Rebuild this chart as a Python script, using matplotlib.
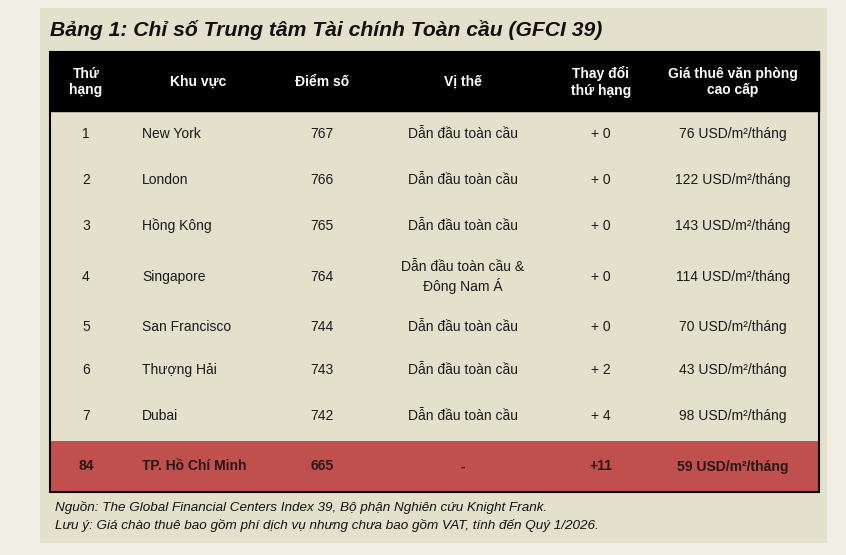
import matplotlib
matplotlib.use("Agg")
import matplotlib.pyplot as plt
from matplotlib.patches import Rectangle

plt.rcParams['font.family'] = ['Liberation Sans', 'DejaVu Sans']

title = "Bảng 1: Chỉ số Trung tâm Tài chính Toàn cầu (GFCI 39)"
headers = ["Thứ\nhạng", "Khu vực", "Điểm số", "Vị thế", "Thay đổi\nthứ hạng", "Giá thuê văn phòng\ncao cấp"]
ranks = ["1", "2", "3", "4", "5", "6", "7", "84"]
regions = ["New York", "London", "Hồng Kông", "Singapore", "San Francisco", "Thượng Hải", "Dubai", "TP. Hồ Chí Minh"]
scores = ["767", "766", "765", "764", "744", "743", "742", "665"]
status = ["Dẫn đầu toàn cầu", "Dẫn đầu toàn cầu", "Dẫn đầu toàn cầu", "Dẫn đầu toàn cầu &\nĐông Nam Á",
          "Dẫn đầu toàn cầu", "Dẫn đầu toàn cầu", "Dẫn đầu toàn cầu", "-"]
rank_change = ["+ 0", "+ 0", "+ 0", "+ 0", "+ 0", "+ 2", "+ 4", "+11"]
rents = ["76 USD/m²/tháng", "122 USD/m²/tháng", "143 USD/m²/tháng", "114 USD/m²/tháng",
         "70 USD/m²/tháng", "43 USD/m²/tháng", "98 USD/m²/tháng", "59 USD/m²/tháng"]
notes = ["Nguồn: The Global Financial Centers Index 39, Bộ phận Nghiên cứu Knight Frank.",
         "Lưu ý: Giá chào thuê bao gồm phí dịch vụ nhưng chưa bao gồm VAT, tính đến Quý 1/2026."]

W, H = 846, 555
fig = plt.figure(figsize=(W/100, H/100), dpi=100, facecolor="#f0efe6")
ax = fig.add_axes([0, 0, 1, 1])
ax.set_xlim(0, W); ax.set_ylim(H, 0); ax.axis("off")

beige = "#e3e0cc"
ax.add_patch(Rectangle((40, 8), 787, 535, facecolor=beige, edgecolor="none"))
ax.text(50, 30, title, fontsize=15.2, fontweight="bold", style="italic", va="center", color="#111")

tx0, tx1 = 50, 819
ax.add_patch(Rectangle((tx0, 52), tx1-tx0, 59, facecolor="black", edgecolor="black"))
col_x = [86, 198, 322, 463, 601, 733]
for x, h in zip(col_x, headers):
    ax.text(x, 82, h, color="white", fontsize=10, fontweight="bold", ha="center", va="center", linespacing=1.25)

bounds = [111, 157, 203, 249, 305, 349, 391, 441, 492]
n = len(ranks)
for i in range(n):
    y0, y1 = bounds[i], bounds[i+1]
    yc = (y0 + y1) / 2
    last = i == n - 1
    if last:
        ax.add_patch(Rectangle((tx0, y0), tx1-tx0, y1-y0, facecolor="#c0504d", edgecolor="none"))
    kw = dict(fontsize=10, va="center", color="#2a1414" if last else "#1a1a1a",
              fontweight="bold" if last else "normal")
    ax.text(col_x[0], yc, ranks[i], ha="center", **kw)
    ax.text(142, yc, regions[i], ha="left", **kw)
    ax.text(col_x[2], yc, scores[i], ha="center", **kw)
    ax.text(col_x[3], yc, status[i], ha="center", linespacing=1.25, **kw)
    ax.text(col_x[4], yc, rank_change[i], ha="center", **kw)
    ax.text(col_x[5], yc, rents[i], ha="center", **kw)

ax.add_patch(Rectangle((tx0, 52), tx1-tx0, 492-52, facecolor="none", edgecolor="black", lw=1.5))
for j, t in enumerate(notes):
    ax.text(55, 507 + j*18, t, fontsize=9.7, style="italic", va="center", color="#111")

fig.savefig("out.png", dpi=100, facecolor=fig.get_facecolor())
